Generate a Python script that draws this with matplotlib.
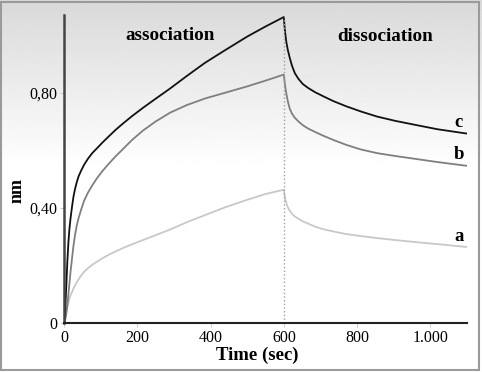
import numpy as np
import matplotlib
matplotlib.use("Agg")
import matplotlib.pyplot as plt
from matplotlib.patches import Rectangle

# Sensorgram data (time in sec, response in nm)
time_s = [0, 3, 6, 9, 12, 15, 18, 22, 26, 30,
          35, 40, 47, 55, 65, 77, 90, 105, 122, 140,
          160, 185, 215, 250, 290, 335, 385, 440, 500, 550,
          600, 602, 604, 607, 611, 616, 622, 630, 640, 652,
          667, 685, 707, 735, 770, 810, 855, 905, 960, 1020,
          1100]

curve_a = [0, 0.015, 0.035, 0.055, 0.07, 0.085, 0.097, 0.108, 0.12, 0.13,
           0.142, 0.152, 0.165, 0.178, 0.19, 0.202, 0.213, 0.225, 0.237, 0.248,
           0.26, 0.273, 0.288, 0.305, 0.325, 0.35, 0.375, 0.402, 0.428, 0.448,
           0.463, 0.445, 0.43, 0.415, 0.402, 0.39, 0.38, 0.37, 0.362, 0.353,
           0.345, 0.335, 0.326, 0.318, 0.309, 0.302, 0.295, 0.288, 0.281, 0.274,
           0.264]

curve_b = [0, 0.01, 0.03, 0.06, 0.1, 0.14, 0.18, 0.225, 0.27, 0.305,
           0.34, 0.365, 0.395, 0.425, 0.452, 0.478, 0.503, 0.528, 0.553, 0.578,
           0.603, 0.635, 0.668, 0.7, 0.731, 0.757, 0.78, 0.8, 0.822, 0.842,
           0.863, 0.84, 0.82, 0.795, 0.77, 0.745, 0.728, 0.713, 0.7, 0.687,
           0.675, 0.664, 0.651, 0.636, 0.619, 0.603, 0.59, 0.58, 0.57, 0.559,
           0.546]

curve_c = [0, 0.04, 0.12, 0.21, 0.28, 0.33, 0.365, 0.405, 0.44, 0.465,
           0.49, 0.51, 0.53, 0.55, 0.57, 0.59, 0.607, 0.627, 0.648, 0.67,
           0.692, 0.718, 0.747, 0.779, 0.815, 0.858, 0.904, 0.948, 0.995, 1.03,
           1.063, 1.03, 1.005, 0.975, 0.948, 0.922, 0.895, 0.868, 0.848, 0.83,
           0.816, 0.802, 0.788, 0.771, 0.753, 0.735, 0.717, 0.702, 0.688, 0.673,
           0.658]

switch_time = 600
x_ticks = [0, 200, 400, 600, 800, 1000]
x_tick_labels = ["0", "200", "400", "600", "800", "1.000"]
y_ticks = [0, 0.40, 0.80]
y_tick_labels = ["0", "0,40", "0,80"]

serif = ["Liberation Serif", "DejaVu Serif"]

fig = plt.figure(figsize=(4.82, 3.72), dpi=100)

# gradient background with a thin border
bg = fig.add_axes([0, 0, 1, 1])
grad = np.linspace(0.85, 1.0, 180)
grad = np.concatenate([grad, np.ones(220)])[:, None]
bg.imshow(grad, cmap="gray", vmin=0, vmax=1, aspect="auto",
          extent=[0, 1, 0, 1], origin="upper")
bg.add_patch(Rectangle((0.002, 0.005), 0.992, 0.99, fill=False,
                       edgecolor="#9a9a9a", lw=1.5, transform=bg.transAxes))
bg.set_xlim(0, 1)
bg.set_ylim(0, 1)
bg.axis("off")

ax = fig.add_axes([64 / 482, 49 / 372, 403 / 482, 308 / 372])
ax.patch.set_alpha(0)

ax.plot(time_s, curve_a, color="#c8c8c8", lw=1.3)
ax.plot(time_s, curve_b, color="#7f7f7f", lw=1.3)
ax.plot(time_s, curve_c, color="#111111", lw=1.3)
ax.plot([switch_time, switch_time], [0, max(curve_c)], color="#a0a0a0",
        lw=1, ls=":")

ax.set_xlim(0, 1100)
ax.set_ylim(0, 1.07)
ax.set_xticks(x_ticks)
ax.set_xticklabels(x_tick_labels)
ax.set_yticks(y_ticks)
ax.set_yticklabels(y_tick_labels)
ax.tick_params(length=3, color="#cccccc", labelsize=11.5, pad=2)
for lab in ax.get_xticklabels() + ax.get_yticklabels():
    lab.set_family(serif)

ax.spines["top"].set_visible(False)
ax.spines["right"].set_visible(False)
ax.spines["left"].set_color("#444444")
ax.spines["bottom"].set_color("#222222")
ax.spines["left"].set_linewidth(1.8)
ax.spines["bottom"].set_linewidth(1.5)

ax.set_xlabel("Time (sec)", family=serif, fontweight="bold", fontsize=13.5)
ax.xaxis.set_label_coords(0.48, -0.104)
ax.xaxis.label.set_va("center")
ax.set_ylabel("nm", family=serif, fontweight="bold", fontsize=13)
ax.yaxis.set_label_coords(-0.117, 0.43)
ax.yaxis.label.set_va("center")

ax.text(289, 1.0, "association", family=serif, fontweight="bold",
        fontsize=13.8, ha="center", va="center")
ax.text(876, 0.995, "dissociation", family=serif, fontweight="bold",
        fontsize=13.8, ha="center", va="center")
ax.text(1078, 0.696, "c", family=serif, fontweight="bold", fontsize=13.5,
        ha="center", va="center")
ax.text(1078, 0.584, "b", family=serif, fontweight="bold", fontsize=13.5,
        ha="center", va="center")
ax.text(1078, 0.30, "a", family=serif, fontweight="bold", fontsize=13.5,
        ha="center", va="center")

fig.savefig("out.png", dpi=100)
